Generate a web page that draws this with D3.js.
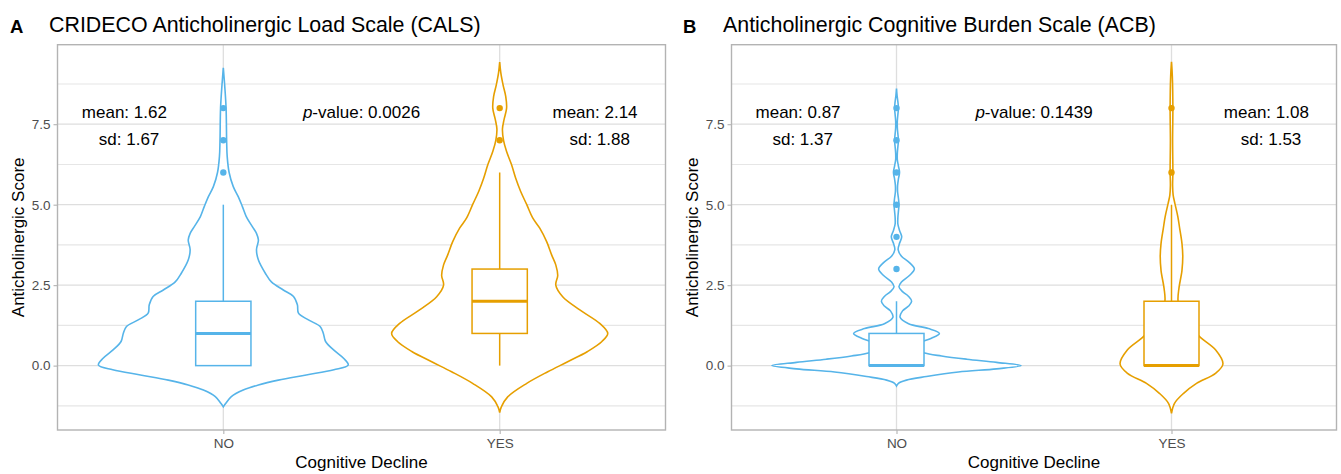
<!DOCTYPE html>
<html>
<head>
<meta charset="utf-8">
<script src="https://cdn.jsdelivr.net/npm/d3@7"></script>
<style>
  body { margin: 0; background: #fff; }
  svg text { font-family: "Liberation Sans", Arial, Helvetica, sans-serif; }
</style>
</head>
<body>
<svg id="chart" width="1341" height="474"></svg>
<script>
// categories and axis ticks
var categories = ["NO", "YES"];
var yMajor = [0, 2.5, 5, 7.5];
var yMinor = [-1.25, 1.25, 3.75, 6.25, 8.75];

var panelTags = ["A", "B"];
var panelTitles = ["CRIDECO Anticholinergic Load Scale (CALS)", "Anticholinergic Cognitive Burden Scale (ACB)"];

// violin outlines: [score, half width in category units]
var calsNoViolin = [[-1.28,0],[-1.17,0.009],[-0.96,0.029],[-0.76,0.072],[-0.6,0.127],[-0.45,0.199],[-0.29,0.3],[-0.13,0.4],
  [0.02,0.452],[0.23,0.435],[0.49,0.399],[0.75,0.37],[1.0,0.362],[1.21,0.351],[1.42,0.308],[1.63,0.272],[1.89,0.268],
  [2.15,0.254],[2.35,0.217],[2.6,0.174],[2.87,0.152],[3.28,0.127],[3.6,0.12],[3.9,0.127],[4.11,0.12],[4.32,0.105],
  [4.63,0.083],[4.94,0.069],[5.25,0.054],[5.56,0.036],[6.0,0.021],[6.5,0.014],[7.0,0.012],[8.0,0.01],[8.7,0.005],[9.25,0]];
var calsYesViolin = [[-1.46,0],[-1.28,0.006],[-0.97,0.029],[-0.55,0.098],[-0.19,0.174],[0.12,0.246],[0.44,0.318],[0.75,0.37],
  [1.0,0.391],[1.31,0.362],[1.73,0.29],[2.14,0.228],[2.5,0.203],[2.8,0.21],[3.13,0.203],[3.44,0.188],[3.85,0.17],
  [4.27,0.145],[4.58,0.12],[5.0,0.098],[5.41,0.076],[5.82,0.058],[6.24,0.043],[6.65,0.025],[7.0,0.014],[7.35,0.01],
  [7.65,0.016],[8.0,0.025],[8.36,0.022],[8.73,0.012],[9.1,0.004],[9.43,0]];
var acbNoViolin = [[-0.63,0],[-0.55,0.007],[-0.45,0.036],[-0.34,0.109],[-0.2,0.225],[-0.1,0.364],[0,0.453],[0.1,0.364],
  [0.2,0.255],[0.3,0.164],[0.4,0.098],[0.55,0.055],[0.7,0.08],[0.85,0.127],[1.0,0.156],[1.15,0.116],[1.3,0.044],
  [1.5,0.013],[1.7,0.022],[1.85,0.044],[2.0,0.055],[2.15,0.044],[2.3,0.022],[2.45,0.009],[2.6,0.018],[2.8,0.047],
  [3.0,0.065],[3.2,0.047],[3.4,0.018],[3.6,0.006],[3.8,0.011],[4.0,0.019],[4.2,0.011],[4.4,0.005],[4.6,0.005],
  [4.8,0.007],[5.0,0.009],[5.2,0.007],[5.4,0.004],[5.6,0.004],[5.8,0.007],[6.0,0.011],[6.2,0.007],[6.4,0.003],
  [6.6,0.003],[6.8,0.005],[7.0,0.007],[7.2,0.005],[7.4,0.003],[7.6,0.003],[7.8,0.005],[8.0,0.007],[8.2,0.005],
  [8.4,0.002],[8.61,0]];
var acbYesViolin = [[-1.48,0],[-1.17,0.011],[-0.86,0.044],[-0.55,0.091],[-0.24,0.16],[0.05,0.187],[0.49,0.16],[0.9,0.102],
  [1.2,0.073],[1.6,0.04],[2.0,0.024],[2.4,0.027],[2.95,0.038],[3.4,0.041],[3.8,0.038],[4.25,0.03],[4.63,0.023],
  [5.05,0.012],[5.3,0.006],[5.6,0.004],[6.0,0.005],[7.0,0.004],[8.0,0.005],[9.0,0.003],[9.44,0]];

// box stats: [lower whisker, q1, median, q3, upper whisker]
var calsNoBox = [0, 0, 1, 2, 5];
var calsYesBox = [0, 1, 2, 3, 6];
var acbNoBox = [0, 0, 0, 1, 2];
var acbYesBox = [0, 0, 0, 2, 5];

var calsNoOut = [6, 7, 8];
var calsYesOut = [7, 8];
var acbNoOut = [3, 4, 5, 6, 7, 8];
var acbYesOut = [6, 8];

// annotations
var calsMeans = ["1.62", "2.14"];
var calsSds = ["1.67", "1.88"];
var acbMeans = ["0.87", "1.08"];
var acbSds = ["1.37", "1.53"];
var pValues = ["0.0026", "0.1439"];

var colors = ["#56B4E9", "#E69F00"];

var svg = d3.select("#chart");

var panels = [
  { left: 57.5, right: 665.5, tagX: 10, titleX: 49,
    violins: [calsNoViolin, calsYesViolin], boxes: [calsNoBox, calsYesBox], outs: [calsNoOut, calsYesOut],
    means: calsMeans, sds: calsSds, p: pValues[0] },
  { left: 731.5, right: 1336.5, tagX: 683, titleX: 723,
    violins: [acbNoViolin, acbYesViolin], boxes: [acbNoBox, acbYesBox], outs: [acbNoOut, acbYesOut],
    means: acbMeans, sds: acbSds, p: pValues[1] }
];

var plotTop = 44.7, plotBottom = 430;

panels.forEach(function(p, k) {
  var x = d3.scaleLinear().domain([0.4, 2.6]).range([p.left, p.right]);
  var y = d3.scaleLinear().domain([-2.0, 9.97]).range([plotBottom, plotTop]);
  var g = svg.append("g");

  // tag + title
  g.append("text").attr("x", p.tagX).attr("y", 33)
    .style("font-size", "18.5px").style("font-weight", "bold").text(panelTags[k]);
  g.append("text").attr("x", p.titleX).attr("y", 32.3)
    .style("font-size", "21.4px").style("fill", "#000").text(panelTitles[k]);

  // grid
  g.selectAll(".minor").data(yMinor).enter().append("line")
    .attr("x1", p.left).attr("x2", p.right)
    .attr("y1", function(d) { return y(d); }).attr("y2", function(d) { return y(d); })
    .attr("stroke", "#E6E6E6").attr("stroke-width", 1.1);
  g.selectAll(".major").data(yMajor).enter().append("line")
    .attr("x1", p.left).attr("x2", p.right)
    .attr("y1", function(d) { return y(d); }).attr("y2", function(d) { return y(d); })
    .attr("stroke", "#DEDEDE").attr("stroke-width", 1.3);
  g.selectAll(".vmajor").data([1, 2]).enter().append("line")
    .attr("y1", plotTop).attr("y2", plotBottom)
    .attr("x1", function(d) { return x(d); }).attr("x2", function(d) { return x(d); })
    .attr("stroke", "#DEDEDE").attr("stroke-width", 1.3);

  // violins, boxes, outliers
  [0, 1].forEach(function(i) {
    var pos = i + 1;
    var col = colors[i];
    var area = d3.area()
      .y(function(d) { return y(d[0]); })
      .x0(function(d) { return x(pos - d[1]); })
      .x1(function(d) { return x(pos + d[1]); })
      .curve(d3.curveCatmullRom);
    g.append("path").attr("d", area(p.violins[i]))
      .attr("fill", "#fff").attr("stroke", col).attr("stroke-width", 1.6);

    var b = p.boxes[i];
    g.append("line").attr("x1", x(pos)).attr("x2", x(pos))
      .attr("y1", y(b[3])).attr("y2", y(b[4]))
      .attr("stroke", col).attr("stroke-width", 1.5);
    g.append("line").attr("x1", x(pos)).attr("x2", x(pos))
      .attr("y1", y(b[1])).attr("y2", y(b[0]))
      .attr("stroke", col).attr("stroke-width", 1.5);
    g.append("rect")
      .attr("x", x(pos - 0.1)).attr("width", x(pos + 0.1) - x(pos - 0.1))
      .attr("y", y(b[3])).attr("height", y(b[1]) - y(b[3]))
      .attr("fill", "#fff").attr("stroke", col).attr("stroke-width", 1.5);
    g.append("line").attr("x1", x(pos - 0.1)).attr("x2", x(pos + 0.1))
      .attr("y1", y(b[2])).attr("y2", y(b[2]))
      .attr("stroke", col).attr("stroke-width", 3);

    g.selectAll(".out" + i).data(p.outs[i]).enter().append("circle")
      .attr("cx", x(pos)).attr("cy", function(d) { return y(d); })
      .attr("r", 3.2).attr("fill", col);

    // mean / sd labels
    var lx = i === 0 ? 0.642 : 2.345;
    g.append("text").attr("x", x(lx)).attr("y", y(7.68))
      .attr("text-anchor", "middle").style("font-size", "17px").text("mean: " + p.means[i]);
    g.append("text").attr("x", x(lx + 0.017)).attr("y", y(6.85))
      .attr("text-anchor", "middle").style("font-size", "17px").text("sd: " + p.sds[i]);
  });

  var pt = g.append("text").attr("x", x(1.5)).attr("y", y(7.68))
    .attr("text-anchor", "middle").style("font-size", "17px");
  pt.append("tspan").style("font-style", "italic").text("p");
  pt.append("tspan").text("-value: " + p.p);

  // axes
  var yAxis = d3.axisLeft(y).tickValues(yMajor).tickFormat(d3.format(".1f")).tickSize(4).tickPadding(3);
  var ya = g.append("g").attr("transform", "translate(" + p.left + ",0)").call(yAxis);
  var xAxis = d3.axisBottom(x).tickValues([1, 2]).tickFormat(function(d) { return categories[d - 1]; })
    .tickSize(4).tickPadding(4);
  var xa = g.append("g").attr("transform", "translate(0," + plotBottom + ")").call(xAxis);
  [ya, xa].forEach(function(a) {
    a.select(".domain").remove();
    a.selectAll("line").attr("stroke", "#B3B3B3").attr("stroke-width", 1.1);
    a.selectAll("text").style("font-size", "13.5px").style("fill", "#4D4D4D")
      .style("font-family", "'Liberation Sans', Arial, sans-serif");
  });

  // panel border
  g.append("rect").attr("x", p.left).attr("y", plotTop)
    .attr("width", p.right - p.left).attr("height", plotBottom - plotTop)
    .attr("fill", "none").attr("stroke", "#B3B3B3").attr("stroke-width", 1.4);

  // axis titles
  g.append("text").attr("x", (p.left + p.right) / 2).attr("y", 468)
    .attr("text-anchor", "middle").style("font-size", "17px").text("Cognitive Decline");
  g.append("text").attr("transform", "translate(" + (p.left - 34) + "," + ((plotTop + plotBottom) / 2) + ") rotate(-90)")
    .attr("text-anchor", "middle").style("font-size", "17px").text("Anticholinergic Score");
});
</script>
</body>
</html>
